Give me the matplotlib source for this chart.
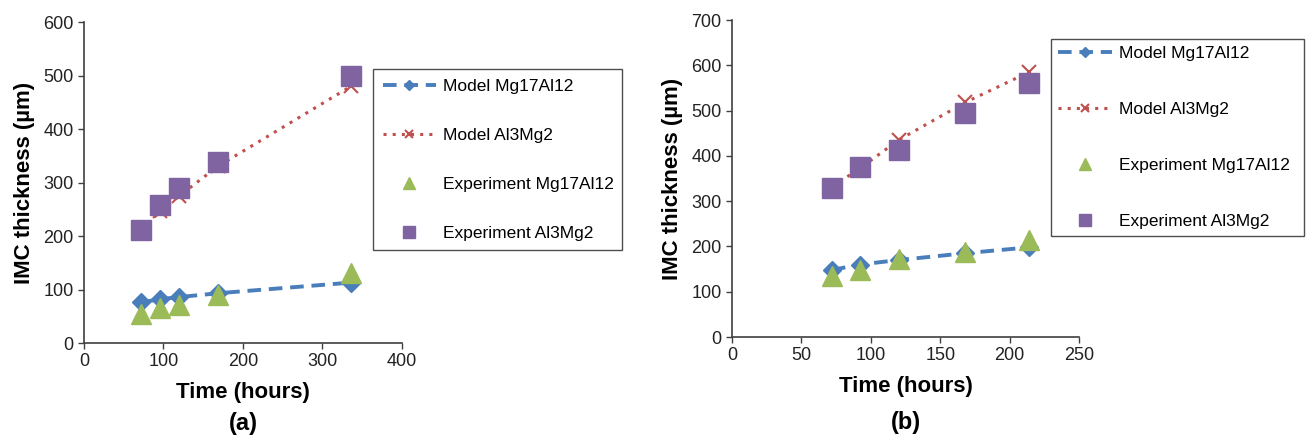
import numpy as np
import matplotlib
matplotlib.use('Agg')
import matplotlib.pyplot as plt

plt.rcParams['font.family'] = ['Liberation Sans', 'DejaVu Sans']

# panel (a) data
time_a = [72, 96, 120, 168, 336]
model_mg_a = [76, 82, 86, 93, 113]
model_al_a = [212, 246, 275, 330, 480]
exp_mg_a = [55, 65, 72, 90, 130]
exp_al_a = [212, 258, 290, 338, 500]

# panel (b) data
time_b = [72, 92, 120, 168, 214]
model_mg_b = [148, 160, 170, 185, 198]
model_al_b = [332, 372, 435, 518, 585]
exp_mg_b = [135, 148, 172, 188, 215]
exp_al_b = [328, 375, 413, 494, 562]

labels = ['Model Mg17Al12', 'Model Al3Mg2', 'Experiment Mg17Al12', 'Experiment Al3Mg2']

c_blue = '#4A7EBB'
c_red = '#C0504D'
c_green = '#9BBB59'
c_purple = '#8064A2'

fig = plt.figure(figsize=(13.06, 4.37), dpi=100)
ax_a = fig.add_axes([0.0643, 0.215, 0.2435, 0.7346])
ax_b = fig.add_axes([0.5605, 0.2288, 0.2657, 0.7254])


def draw(ax, t, mmg, mal, emg, eal, xmax, xstep, ymax, leg_box, spacing, pad, tag, tag_y):
    h1, = ax.plot(t, mmg, color=c_blue, ls=(0, (3.5, 2)), lw=2.8, marker='D',
                  ms=9, mec=c_blue, zorder=3)
    h2, = ax.plot(t, mal, color=c_red, ls=(0, (1, 2)), lw=2.2, marker='x',
                  ms=10, mew=1.5, zorder=3)
    h3, = ax.plot(t, emg, ls='none', marker='^', ms=15, color=c_green, zorder=4)
    h4, = ax.plot(t, eal, ls='none', marker='s', ms=15, color=c_purple, zorder=4)
    ax.set_xlim(0, xmax)
    ax.set_ylim(0, ymax)
    ax.set_xticks(np.arange(0, xmax + 1, xstep))
    ax.set_yticks(np.arange(0, ymax + 1, 100))
    for s in ['top', 'right']:
        ax.spines[s].set_visible(False)
    for s in ['left', 'bottom']:
        ax.spines[s].set_color('#404040')
        ax.spines[s].set_linewidth(1.2)
    ax.tick_params(direction='out', length=4, width=1, colors='#404040',
                   labelcolor='#222222', labelsize=13)
    ax.set_xlabel('Time (hours)', fontsize=16, fontweight='bold', labelpad=8)
    ax.set_ylabel('IMC thickness (\u00b5m)', fontsize=16, fontweight='bold', labelpad=6)
    ax.text(0.5, tag_y, tag, transform=ax.transAxes, ha='center', va='center',
            fontsize=17, fontweight='bold')
    leg = fig.legend([h1, h2, h3, h4], labels, loc='upper left',
                     bbox_to_anchor=leg_box, mode='expand', fontsize=12.5,
                     frameon=True, fancybox=False, edgecolor='#222222',
                     labelspacing=spacing, handlelength=3.1, handletextpad=0.4,
                     borderaxespad=0, borderpad=pad, markerscale=0.6)
    leg.get_frame().set_linewidth(1.0)


draw(ax_a, time_a, model_mg_a, model_al_a, exp_mg_a, exp_al_a, 400, 100, 600,
     (0.2856, 0.842, 0.1907, 0.0), 1.95, 0.55, '(a)', -0.25)
draw(ax_b, time_b, model_mg_b, model_al_b, exp_mg_b, exp_al_b, 250, 50, 700,
     (0.8047, 0.911, 0.194, 0.0), 2.35, 0.4, '(b)', -0.27)

fig.savefig('out.png', dpi=100)
